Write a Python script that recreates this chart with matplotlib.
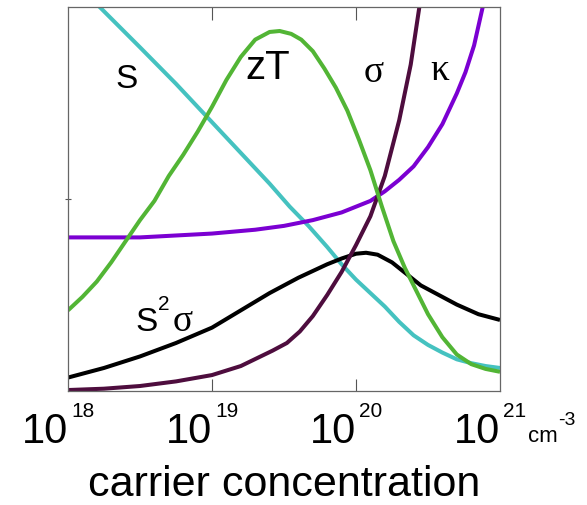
import numpy as np
import matplotlib.pyplot as plt

# log10 of carrier concentration (cm^-3) and curve heights (arbitrary units)
s_logn = [18.0, 18.22, 18.5, 18.75, 18.95, 19.1, 19.25, 19.4, 19.54, 19.67, 19.8, 19.9,
          20.0, 20.1, 20.2, 20.3, 20.4, 20.5, 20.6, 20.7, 20.8, 20.9, 21.0]
s_val = [2.17, 2.0, 1.79, 1.60, 1.44, 1.32, 1.20, 1.08, 0.96, 0.86, 0.75, 0.66,
         0.58, 0.51, 0.44, 0.36, 0.29, 0.24, 0.20, 0.165, 0.145, 0.13, 0.12]

zt_logn = [18.0, 18.1, 18.2, 18.3, 18.4, 18.5, 18.6, 18.7, 18.8, 18.9, 19.0, 19.1, 19.2,
           19.3, 19.4, 19.47, 19.55, 19.62, 19.7, 19.78, 19.86, 19.94, 20.02, 20.1,
           20.18, 20.26, 20.34, 20.42, 20.5, 20.6, 20.7, 20.8, 20.9, 21.0]
zt_val = [0.42, 0.49, 0.57, 0.67, 0.78, 0.89, 0.99, 1.12, 1.23, 1.35, 1.48, 1.62, 1.74,
          1.83, 1.87, 1.875, 1.86, 1.83, 1.77, 1.68, 1.58, 1.46, 1.31, 1.15,
          0.96, 0.78, 0.64, 0.52, 0.40, 0.28, 0.19, 0.14, 0.115, 0.10]

kappa_logn = [18.0, 18.5, 19.0, 19.3, 19.5, 19.7, 19.9, 20.0, 20.1, 20.2, 20.3, 20.4,
              20.5, 20.6, 20.7, 20.76, 20.82, 20.88, 20.93]
kappa_val = [0.80, 0.80, 0.82, 0.84, 0.86, 0.89, 0.93, 0.96, 0.99, 1.04, 1.10, 1.17,
             1.27, 1.39, 1.55, 1.66, 1.80, 2.0, 2.2]

sigma_logn = [18.0, 18.25, 18.5, 18.75, 19.0, 19.2, 19.42, 19.52, 19.61, 19.7, 19.8,
              19.9, 20.0, 20.1, 20.2, 20.3, 20.38, 20.44, 20.48]
sigma_val = [0.005, 0.012, 0.026, 0.05, 0.083, 0.13, 0.21, 0.25, 0.31, 0.39, 0.50,
             0.62, 0.76, 0.91, 1.12, 1.41, 1.70, 2.0, 2.2]

pf_logn = [18.0, 18.25, 18.5, 18.75, 19.0, 19.2, 19.4, 19.6, 19.8, 19.9, 20.0, 20.07,
           20.15, 20.25, 20.35, 20.45, 20.55, 20.7, 20.85, 21.0]
pf_val = [0.07, 0.12, 0.18, 0.25, 0.33, 0.42, 0.51, 0.59, 0.66, 0.69, 0.715, 0.72,
          0.71, 0.67, 0.61, 0.55, 0.51, 0.45, 0.40, 0.37]

tick_exps = [18, 19, 20, 21]

sans = 'Liberation Sans'
serif = 'Liberation Serif'

fig = plt.figure(figsize=(5.87, 5.05), dpi=100)
ax = fig.add_axes([68/587, 114/505, 432/587, 384/505])

style = dict(lw=2.9, solid_capstyle='butt', solid_joinstyle='round')
ax.plot(10**np.array(s_logn), s_val, color='#45c2c0', **style)
ax.plot(10**np.array(kappa_logn), kappa_val, color='#7b00d2', **style)
ax.plot(10**np.array(pf_logn), pf_val, color='black', **style)
ax.plot(10**np.array(sigma_logn), sigma_val, color='#4e0d3e', **style)
ax.plot(10**np.array(zt_logn), zt_val, color='#52b535', **style)

ax.set_xscale('log')
ax.set_xlim(1e18, 1e21)
ax.set_ylim(0, 2)

ax.set_xticks([1e19, 1e20])
ax.set_xticklabels([])
ax.xaxis.set_minor_locator(plt.NullLocator())
ax.set_yticks([1])
ax.set_yticklabels([])
ax.tick_params(axis='x', which='major', direction='in', length=9, width=0.8,
               color='#555555', top=True, bottom=True)
ax.tick_params(axis='y', which='major', direction='inout', length=5, width=0.8,
               color='#555555', left=True, right=False)
for sp in ax.spines.values():
    sp.set_color('#666666')
    sp.set_linewidth(0.9)

# tick labels: big "10" with small exponent
for e in tick_exps:
    ax.annotate('10', xy=(10.0**e, 0), xycoords=('data', 'axes fraction'),
                xytext=(0, -52), textcoords='offset pixels', ha='right', va='baseline',
                fontsize=30, family=sans)
    ax.annotate(str(e), xy=(10.0**e, 0), xycoords=('data', 'axes fraction'),
                xytext=(3, -26), textcoords='offset pixels', ha='left', va='baseline',
                fontsize=15, family=sans)
ax.annotate('cm', xy=(1e21, 0), xycoords=('data', 'axes fraction'),
            xytext=(28, -51), textcoords='offset pixels', ha='left', va='baseline',
            fontsize=16, family=sans)
ax.annotate('-3', xy=(1e21, 0), xycoords=('data', 'axes fraction'),
            xytext=(58, -34), textcoords='offset pixels', ha='left', va='baseline',
            fontsize=14, family=sans)

ax.annotate('carrier concentration', xy=(0.5, 0), xycoords='axes fraction',
            xytext=(0, -105), textcoords='offset pixels', ha='center', va='baseline',
            fontsize=31, family=sans)

# curve labels
ax.text(10**18.41, 1.62, 'S', fontsize=24, family=sans, ha='center', va='center')
ax.text(10**19.39, 1.68, 'zT', fontsize=29, family=sans, ha='center', va='center')
ax.text(10**20.12, 1.66, '\u03c3', fontsize=27, family=serif, ha='center', va='center')
ax.text(10**20.58, 1.67, '\u03ba', fontsize=27, family=serif, ha='center', va='center')
ax.annotate('S', xy=(10**18.465, 0.31), ha='left', va='baseline', fontsize=24, family=sans)
ax.annotate('2', xy=(10**18.465, 0.31), xytext=(23, 21), textcoords='offset pixels',
            ha='left', va='baseline', fontsize=15, family=sans)
ax.annotate('\u03c3', xy=(10**18.465, 0.31), xytext=(38, 0), textcoords='offset pixels',
            ha='left', va='baseline', fontsize=27, family=serif)

fig.savefig('out.png', dpi=100)
plt.close(fig)
